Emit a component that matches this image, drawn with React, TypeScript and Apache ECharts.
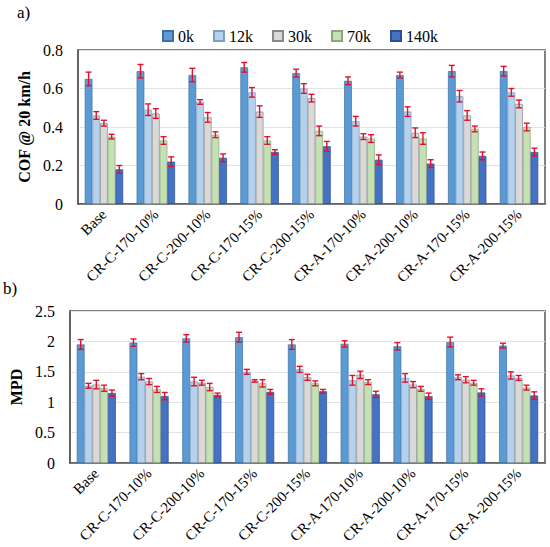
import React, { useEffect, useRef } from "react";
import * as echarts from "echarts";

const categories = [
  "Base",
  "CR-C-170-10%",
  "CR-C-200-10%",
  "CR-C-170-15%",
  "CR-C-200-15%",
  "CR-A-170-10%",
  "CR-A-200-10%",
  "CR-A-170-15%",
  "CR-A-200-15%",
];
const seriesNames = ["0k", "12k", "30k", "70k", "140k"];

// COF @ 20 km/h values per series (index over categories)
const cof0k = [0.65, 0.69, 0.67, 0.71, 0.68, 0.64, 0.67, 0.69, 0.69];
const cof12k = [0.46, 0.49, 0.53, 0.58, 0.6, 0.43, 0.48, 0.56, 0.58];
const cof30k = [0.42, 0.47, 0.45, 0.48, 0.55, 0.35, 0.37, 0.46, 0.52];
const cof70k = [0.35, 0.33, 0.36, 0.33, 0.38, 0.34, 0.34, 0.39, 0.4];
const cof140k = [0.18, 0.22, 0.24, 0.27, 0.3, 0.23, 0.21, 0.25, 0.27];

const cofErr0k = [0.035, 0.035, 0.035, 0.025, 0.02, 0.02, 0.015, 0.03, 0.025];
const cofErr12k = [0.02, 0.03, 0.012, 0.025, 0.025, 0.025, 0.025, 0.03, 0.02];
const cofErr30k = [0.015, 0.025, 0.025, 0.03, 0.02, 0.015, 0.025, 0.025, 0.02];
const cofErr70k = [0.012, 0.02, 0.015, 0.02, 0.025, 0.02, 0.03, 0.015, 0.02];
const cofErr140k = [0.02, 0.025, 0.02, 0.012, 0.025, 0.025, 0.02, 0.02, 0.02];

// MPD values
const mpd0k = [1.95, 1.98, 2.05, 2.07, 1.95, 1.96, 1.92, 1.99, 1.93];
const mpd12k = [1.27, 1.42, 1.34, 1.5, 1.54, 1.36, 1.4, 1.41, 1.44];
const mpd30k = [1.29, 1.34, 1.32, 1.35, 1.41, 1.45, 1.29, 1.37, 1.4];
const mpd70k = [1.23, 1.21, 1.25, 1.31, 1.31, 1.33, 1.22, 1.32, 1.24];
const mpd140k = [1.15, 1.1, 1.12, 1.17, 1.18, 1.13, 1.1, 1.16, 1.11];

const mpdErr0k = [0.08, 0.06, 0.06, 0.08, 0.08, 0.05, 0.06, 0.08, 0.04];
const mpdErr12k = [0.04, 0.05, 0.07, 0.04, 0.05, 0.08, 0.07, 0.04, 0.06];
const mpdErr30k = [0.07, 0.05, 0.04, 0.02, 0.05, 0.06, 0.05, 0.05, 0.04];
const mpdErr70k = [0.05, 0.05, 0.06, 0.06, 0.04, 0.04, 0.04, 0.04, 0.04];
const mpdErr140k = [0.05, 0.06, 0.03, 0.04, 0.03, 0.05, 0.05, 0.06, 0.06];

const cofTicks = { min: 0, max: 0.8, interval: 0.2 };
const mpdTicks = { min: 0, max: 2.5, interval: 0.5 };

const fills = ["#5B9BD5", "#B4D1EE", "#D9D9D9", "#C5E0B4", "#4472C4"];
const borders = ["#3F6F9C", "#7F9DBD", "#8A8A8A", "#8AA87C", "#2F4F8F"];
const errColor = "#E0112F";
const FONT = "'Liberation Serif', 'Times New Roman', serif";
const CAT_GAP = 0.26;

export default function App() {
  const ref = useRef<HTMLDivElement>(null);

  useEffect(() => {
    if (!ref.current) return;
    document.body.style.margin = "0";
    const chart = echarts.init(ref.current, null, { renderer: "svg" });

    const cof = [cof0k, cof12k, cof30k, cof70k, cof140k];
    const cofErr = [cofErr0k, cofErr12k, cofErr30k, cofErr70k, cofErr140k];
    const mpd = [mpd0k, mpd12k, mpd30k, mpd70k, mpd140k];
    const mpdErr = [mpdErr0k, mpdErr12k, mpdErr30k, mpdErr70k, mpdErr140k];

    const errRender = (params: any, api: any) => {
      const cat = api.value(0);
      const val = api.value(1);
      const err = api.value(2);
      const si = api.value(3);
      const center = api.coord([cat, val]);
      const band = api.size([1, 0])[0];
      const groupW = band * (1 - CAT_GAP);
      const barW = groupW / 5;
      const x = center[0] - groupW / 2 + barW * (si + 0.5);
      const top = api.coord([cat, val + err])[1];
      const bot = api.coord([cat, val - err])[1];
      const cap = 3;
      const st = { stroke: errColor, lineWidth: 1.4 };
      return {
        type: "group",
        children: [
          { type: "line", shape: { x1: x, y1: top, x2: x, y2: bot }, style: st },
          { type: "line", shape: { x1: x - cap, y1: top, x2: x + cap, y2: top }, style: st },
          { type: "line", shape: { x1: x - cap, y1: bot, x2: x + cap, y2: bot }, style: st },
        ],
      };
    };

    const series: any[] = [];
    [cof, mpd].forEach((set, gi) => {
      set.forEach((vals, si) => {
        series.push({
          name: seriesNames[si],
          type: "bar",
          xAxisIndex: gi,
          yAxisIndex: gi,
          data: vals,
          barGap: "0%",
          barCategoryGap: CAT_GAP * 100 + "%",
          itemStyle: { color: fills[si], borderColor: borders[si], borderWidth: 0.7 },
        });
      });
    });
    [
      [cof, cofErr],
      [mpd, mpdErr],
    ].forEach(([set, errs], gi) => {
      const data: number[][] = [];
      set.forEach((vals, si) => {
        vals.forEach((v, ci) => data.push([ci, v, errs[si][ci], si]));
      });
      series.push({
        type: "custom",
        xAxisIndex: gi,
        yAxisIndex: gi,
        renderItem: errRender,
        data,
        encode: { x: 0, y: 1 },
        z: 10,
        silent: true,
      });
    });

    const xAxisBase = {
      type: "category",
      data: categories,
      axisTick: { show: false },
      axisLine: { lineStyle: { color: "#595959", width: 1.5 } },
      axisLabel: {
        interval: 0,
        rotate: 45,
        fontFamily: FONT,
        fontSize: 15,
        color: "#000",
        margin: 8,
      },
    };
    const yAxisBase = {
      type: "value",
      axisTick: { show: false },
      axisLine: { show: true, lineStyle: { color: "#595959", width: 1.5 } },
      splitLine: { lineStyle: { color: "#E3E3E3", width: 1 } },
      axisLabel: { fontFamily: FONT, fontSize: 16, color: "#000", margin: 15 },
      nameLocation: "middle",
      nameTextStyle: { fontFamily: FONT, fontSize: 16, fontWeight: "bold", color: "#000" },
    };

    chart.setOption({
      animation: false,
      textStyle: { fontFamily: FONT },
      legend: {
        data: seriesNames,
        left: 157,
        top: 23,
        itemWidth: 10,
        itemHeight: 10,
        itemGap: 19,
        icon: "rect",
        textStyle: { fontFamily: FONT, fontSize: 16, color: "#000" },
      },
      graphic: [
        { type: "text", left: 17, top: 4, style: { text: "a)", font: `17px ${FONT}`, fill: "#000" } },
        { type: "text", left: 3, top: 280, style: { text: "b)", font: `17px ${FONT}`, fill: "#000" } },
      ],
      grid: [
        { left: 78, right: 5, top: 50, height: 154, show: true, borderColor: "#595959", borderWidth: 1.5 },
        { left: 67, right: 5, top: 311, height: 152, show: true, borderColor: "#595959", borderWidth: 1.5 },
      ],
      xAxis: [
        { ...xAxisBase, gridIndex: 0 },
        { ...xAxisBase, gridIndex: 1 },
      ],
      yAxis: [
        { ...yAxisBase, gridIndex: 0, ...cofTicks, name: "COF @ 20 km/h", nameGap: 29 },
        { ...yAxisBase, gridIndex: 1, ...mpdTicks, name: "MPD", nameGap: 42 },
      ],
      series,
    });

    return () => chart.dispose();
  }, []);

  return <div ref={ref} style={{ width: 550, height: 547 }} />;
}
